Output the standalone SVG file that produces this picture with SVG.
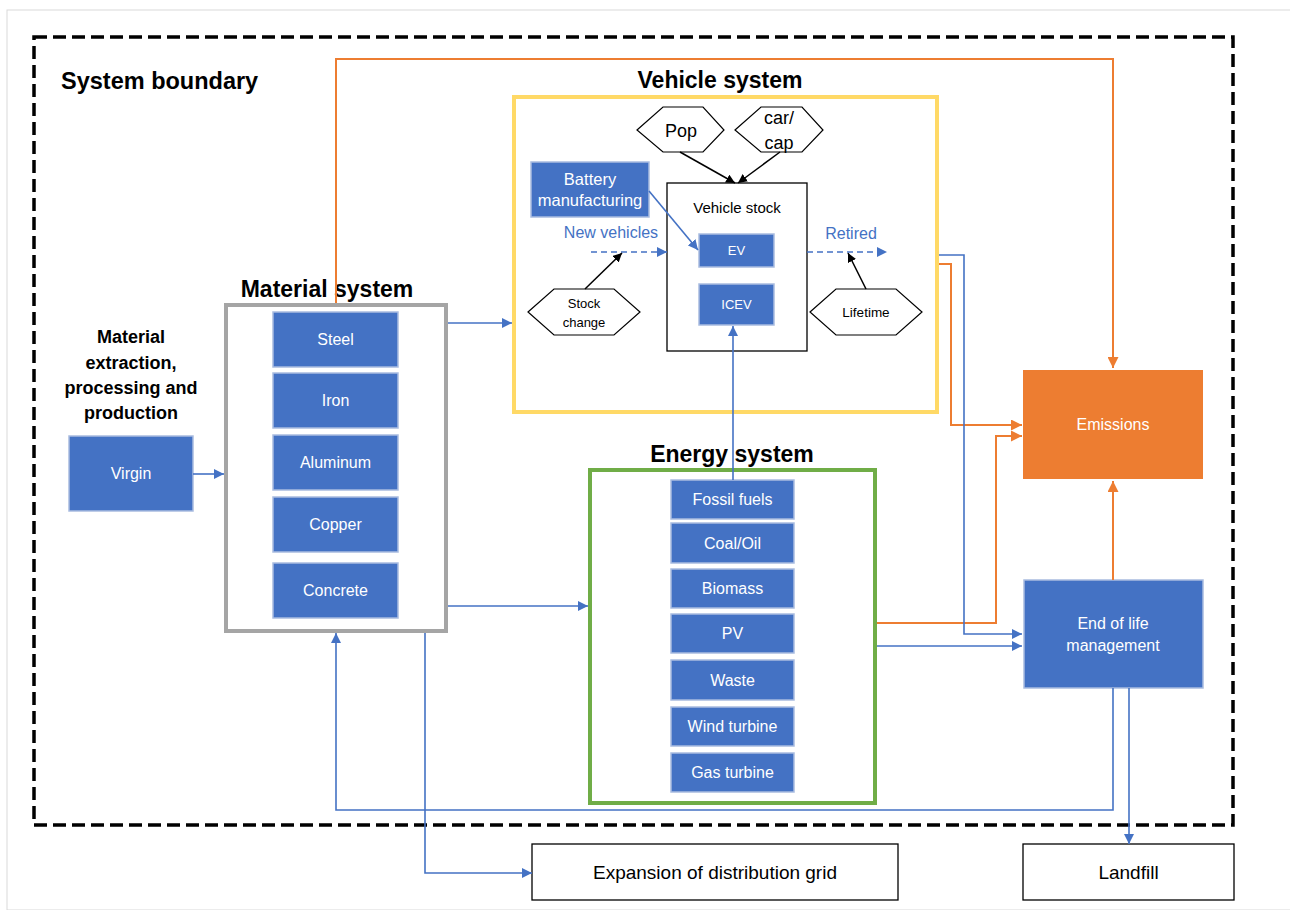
<svg xmlns="http://www.w3.org/2000/svg" width="1290" height="910" viewBox="0 0 1290 910">
<defs>
<style>
.t{font-family:"Liberation Sans",Arial,sans-serif;}
.title{font-family:"Liberation Sans",Arial,sans-serif;font-weight:bold;font-size:23px;fill:#000;text-anchor:middle;}
.bbox{fill:#4472C4;stroke:#A9BCE0;stroke-width:1.5;}
.wt{font-family:"Liberation Sans",Arial,sans-serif;font-size:16px;fill:#fff;text-anchor:middle;}
.bt{font-family:"Liberation Sans",Arial,sans-serif;fill:#000;text-anchor:middle;}
.hex{fill:#fff;stroke:#000;stroke-width:1.2;}
.wbox{fill:#fff;stroke:#000;stroke-width:1.3;}
.bl{fill:none;stroke:#4472C4;stroke-width:1.6;}
.or{fill:none;stroke:#ED7D31;stroke-width:2;}
.bk{fill:none;stroke:#000;stroke-width:1.5;}
</style>
<marker id="ab" viewBox="0 0 10 10" refX="10" refY="5" markerWidth="10" markerHeight="10" markerUnits="userSpaceOnUse" orient="auto"><path d="M0,0L10,5L0,10z" fill="#4472C4"/></marker>
<marker id="ao" viewBox="0 0 10 10" refX="10" refY="5" markerWidth="11" markerHeight="11" markerUnits="userSpaceOnUse" orient="auto"><path d="M0,0L10,5L0,10z" fill="#ED7D31"/></marker>
<marker id="ak" viewBox="0 0 10 10" refX="10" refY="5" markerWidth="9" markerHeight="9" markerUnits="userSpaceOnUse" orient="auto"><path d="M0,0L10,5L0,10z" fill="#000"/></marker>
</defs>
<rect x="0" y="0" width="1290" height="910" fill="#fff"/>
<rect x="7" y="10" width="1290" height="900" fill="none" stroke="#d9d9d9" stroke-width="1"/>

<g id="boundary">
<rect x="34" y="37" width="1199" height="788" fill="none" stroke="#000" stroke-width="3.5" stroke-dasharray="13,6"/>
<text class="t" x="61" y="89" font-size="23.5" font-weight="bold">System boundary</text>
</g>

<g id="extraction">
<text class="bt" x="131" font-size="18" font-weight="bold"><tspan x="131" y="343">Material</tspan><tspan x="131" y="369">extraction,</tspan><tspan x="131" y="394">processing and</tspan><tspan x="131" y="419">production</tspan></text>
</g>
<g id="virgin">
<rect class="bbox" x="69" y="436" width="124" height="75"/>
<text class="wt" x="131" y="479">Virgin</text>
</g>

<g id="material-system">
<rect x="226" y="305" width="220" height="326" fill="#fff" stroke="#A5A5A5" stroke-width="4"/>
<text class="title" x="327" y="297">Material system</text>
<g id="steel"><rect class="bbox" x="273" y="312" width="125" height="55"/><text class="wt" x="335.5" y="345">Steel</text></g>
<g id="iron"><rect class="bbox" x="273" y="373" width="125" height="55"/><text class="wt" x="335.5" y="406">Iron</text></g>
<g id="aluminum"><rect class="bbox" x="273" y="435" width="125" height="55"/><text class="wt" x="335.5" y="468">Aluminum</text></g>
<g id="copper"><rect class="bbox" x="273" y="497" width="125" height="55"/><text class="wt" x="335.5" y="530">Copper</text></g>
<g id="concrete"><rect class="bbox" x="273" y="563" width="125" height="55"/><text class="wt" x="335.5" y="596">Concrete</text></g>
</g>

<g id="vehicle-system">
<rect x="514" y="97" width="423" height="315" fill="none" stroke="#FFD966" stroke-width="4"/>
<text class="title" x="720" y="88">Vehicle system</text>
</g>
<g id="pop">
<polygon class="hex" points="637,130 663,107 703,107 724,130 703,152 663,152"/>
<text class="bt" x="681" y="137" font-size="18">Pop</text>
</g>
<g id="carcap">
<polygon class="hex" points="735,130 761,107 802,107 823,130 802,152 761,152"/>
<text class="bt" font-size="18"><tspan x="779" y="124">car/</tspan><tspan x="779" y="149">cap</tspan></text>
</g>
<g id="battery">
<rect class="bbox" x="531" y="162" width="118" height="55"/>
<text class="wt" style="font-size:16.5px"><tspan x="590" y="185">Battery</tspan><tspan x="590" y="206">manufacturing</tspan></text>
</g>
<g id="vehicle-stock">
<rect class="wbox" x="667" y="183" width="140" height="168"/>
<text class="bt" x="737" y="213" font-size="15">Vehicle stock</text>
</g>
<g id="ev">
<rect class="bbox" x="699" y="234" width="75" height="33"/>
<text class="wt" x="736.5" y="255" style="font-size:13px">EV</text>
</g>
<g id="icev">
<rect class="bbox" x="699" y="284" width="75" height="41"/>
<text class="wt" x="736.5" y="309" style="font-size:13px">ICEV</text>
</g>
<text class="t" x="611" y="238" font-size="16" fill="#4472C4" text-anchor="middle">New vehicles</text>
<text class="t" x="851" y="239" font-size="16" fill="#4472C4" text-anchor="middle">Retired</text>
<g id="stock-change">
<polygon class="hex" points="528,312 554,289 614,289 640,312 614,335 554,335"/>
<text class="bt" font-size="13"><tspan x="584" y="308">Stock</tspan><tspan x="584" y="327">change</tspan></text>
</g>
<g id="lifetime">
<polygon class="hex" points="810,312 836,289 896,289 922,312 896,335 836,335"/>
<text class="bt" x="866" y="317" font-size="13.5">Lifetime</text>
</g>

<g id="energy-system">
<rect x="590" y="470" width="285" height="333" fill="#fff" stroke="#70AD47" stroke-width="4"/>
<text class="title" x="732" y="462">Energy system</text>
<g id="fossil"><rect class="bbox" x="671" y="480" width="123" height="39"/><text class="wt" x="732.5" y="505">Fossil fuels</text></g>
<g id="coal"><rect class="bbox" x="671" y="523" width="123" height="40"/><text class="wt" x="732.5" y="549">Coal/Oil</text></g>
<g id="biomass"><rect class="bbox" x="671" y="569" width="123" height="39"/><text class="wt" x="732.5" y="594">Biomass</text></g>
<g id="pv"><rect class="bbox" x="671" y="614" width="123" height="39"/><text class="wt" x="732.5" y="639">PV</text></g>
<g id="waste"><rect class="bbox" x="671" y="660" width="123" height="40"/><text class="wt" x="732.5" y="686">Waste</text></g>
<g id="wind"><rect class="bbox" x="671" y="707" width="123" height="39"/><text class="wt" x="732.5" y="732">Wind turbine</text></g>
<g id="gas"><rect class="bbox" x="671" y="753" width="123" height="39"/><text class="wt" x="732.5" y="778">Gas turbine</text></g>
</g>

<g id="emissions">
<rect x="1023" y="370" width="180" height="109" fill="#ED7D31"/>
<text class="wt" x="1113" y="430">Emissions</text>
</g>
<g id="end-of-life">
<rect class="bbox" x="1024" y="580" width="179" height="108"/>
<text class="wt"><tspan x="1113" y="629">End of life</tspan><tspan x="1113" y="651">management</tspan></text>
</g>
<g id="expansion">
<rect class="wbox" x="532" y="844" width="366" height="56"/>
<text class="bt" x="715" y="879" font-size="19">Expansion of distribution grid</text>
</g>
<g id="landfill">
<rect class="wbox" x="1023" y="844" width="211" height="56"/>
<text class="bt" x="1128.5" y="879" font-size="19">Landfill</text>
</g>

<g id="connectors">
<polyline class="or" points="336,303 336,59 1113,59 1113,368" marker-end="url(#ao)"/>
<polyline class="or" points="939,264 951,264 951,425 1022,425" marker-end="url(#ao)"/>
<polyline class="or" points="877,623 996,623 996,436 1022,436" marker-end="url(#ao)"/>
<polyline class="or" points="1113,580 1113,481" marker-end="url(#ao)"/>
<polyline class="bl" points="939,255 964,255 964,634 1022,634" marker-end="url(#ab)"/>
<polyline class="bl" points="877,646 1022,646" marker-end="url(#ab)"/>
<polyline class="bl" points="193,474 224,474" marker-end="url(#ab)"/>
<polyline class="bl" points="448,323 512,323" marker-end="url(#ab)"/>
<polyline class="bl" points="448,606 588,606" marker-end="url(#ab)"/>
<polyline class="bl" points="733,480 733,326" marker-end="url(#ab)"/>
<polyline class="bl" points="1113,688 1113,810 336,810 336,633" marker-end="url(#ab)"/>
<polyline class="bl" points="1129,688 1129,844" marker-end="url(#ab)"/>
<polyline class="bl" points="425,633 425,873 532,873" marker-end="url(#ab)"/>
<polyline class="bl" points="649,191 698,250" marker-end="url(#ab)"/>
<polyline class="bl" points="591,252 667,252" stroke-dasharray="6,4" marker-end="url(#ab)"/>
<polyline class="bl" points="807,252 887,252" stroke-dasharray="6,4" marker-end="url(#ab)"/>
<polyline class="bk" points="680,152 735,183" marker-end="url(#ak)"/>
<polyline class="bk" points="780,152 738,183" marker-end="url(#ak)"/>
<polyline class="bk" points="585,289 622,253" marker-end="url(#ak)"/>
<polyline class="bk" points="866,289 848,253" marker-end="url(#ak)"/>
</g>
</svg>
